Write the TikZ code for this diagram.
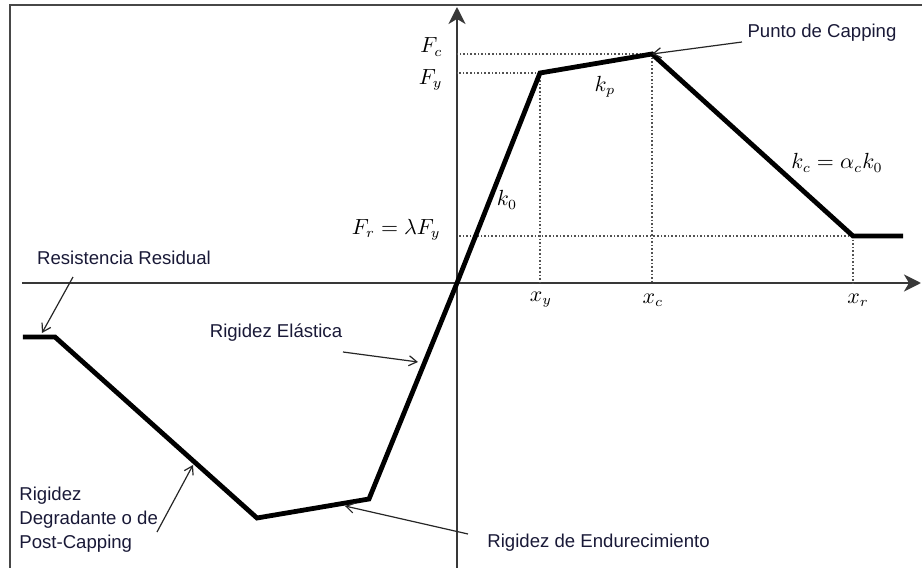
\documentclass[tikz,border=0pt]{standalone}
\usepackage{fontspec}
\newfontfamily\notefont{Liberation Sans}
\usetikzlibrary{arrows.meta}
\definecolor{navytext}{RGB}{25,25,55}

\begin{document}
\begin{tikzpicture}[x=0.5pt, y=0.5pt,
  axis/.style={draw=black!78, line width=1.1pt, -{Stealth[length=8.5pt,width=8.5pt,inset=2.5pt]}},
  curve/.style={line width=2.4pt, line join=miter},
  guide/.style={densely dotted, draw=black!68, line width=0.8pt},
  note/.style={font=\notefont\fontsize{9.3}{12}\selectfont, text=navytext, inner sep=1pt},
  pointer/.style={-{Straight Barb[length=4pt,width=5pt]}, line width=0.6pt, draw=black!85},
  sym/.style={font=\fontsize{10.5}{12}\selectfont, inner sep=1pt},
]
\useasboundingbox (-457,-285) rectangle (465,283);

% frame (cropped)
\draw[black!72, line width=1.2pt] (-447,-285) -- (-447,278) -- (465,278);

% axes
\coordinate (O) at (0,0);
\coordinate (xl) at (-435,0);
\coordinate (xe) at (464,0);
\coordinate (yb) at (0,-285);
\coordinate (ye) at (0,276);
\draw[axis] (xl) -- (xe);
\draw[axis] (yb) -- (ye);

% backbone points
\coordinate (py) at (83,210);
\coordinate (pc) at (195,229);
\coordinate (pr) at (396,47);
\coordinate (pe) at (446,47);
\coordinate (ny) at (-88,-216);
\coordinate (nc) at (-200,-235);
\coordinate (nr) at (-402,-54);
\coordinate (ne) at (-434,-54);

\foreach \p in {py, pc, pr} {
  \draw[guide] (\p) -- (\p |- O);
  \draw[guide] (\p) -- (O |- \p);
}

\draw[curve] (ne) -- (nr) -- (nc) -- (ny) -- (O) -- (py) -- (pc) -- (pr) -- (pe);

% symbols
\node[sym, anchor=east] (fc) at (-12,236) {$F_c$};
\node[sym, anchor=east] (fy) at (-12,203) {$F_y$};
\node[sym, anchor=east] (fr) at (-14,53) {$F_r = \lambda F_y$};
\node[sym] (k0) at (50,83) {$k_0$};
\node[sym] (kp) at (148,196) {$k_p$};
\node[sym] (kc) at (380,120) {$k_c = \alpha_c k_0$};
\node[sym] (xy) at (84,-17) {$x_y$};
\node[sym] (xc) at (196,-17) {$x_c$};
\node[sym] (xr) at (401,-17) {$x_r$};

% notes
\node[note] (cap) at (365,250) {Punto de Capping};
\node[note] (res) at (-333,25) {Resistencia Residual};
\node[note] (ela) at (-181,-50) {Rigidez Elástica};
\node[note, anchor=west, align=left] (deg) at (-440,-237) {Rigidez\\Degradante o de\\Post-Capping};
\node[note, anchor=west] (end) at (28,-260) {Rigidez de Endurecimiento};

\coordinate (capT) at (285,241);
\coordinate (resT) at (-384,6);
\coordinate (resH) at (-415,-50);
\coordinate (elaT) at (-114,-69);
\coordinate (elaH) at (-39,-79);
\coordinate (degT) at (-300,-249);
\coordinate (degH) at (-264,-182);
\coordinate (endT) at (11,-251);
\coordinate (endH) at (-112,-223);

\draw[pointer] (capT) -- (pc);
\draw[pointer] (resT) -- (resH);
\draw[pointer] (elaT) -- (elaH);
\draw[pointer] (degT) -- (degH);
\draw[pointer] (endT) -- (endH);

\end{tikzpicture}
\end{document}
